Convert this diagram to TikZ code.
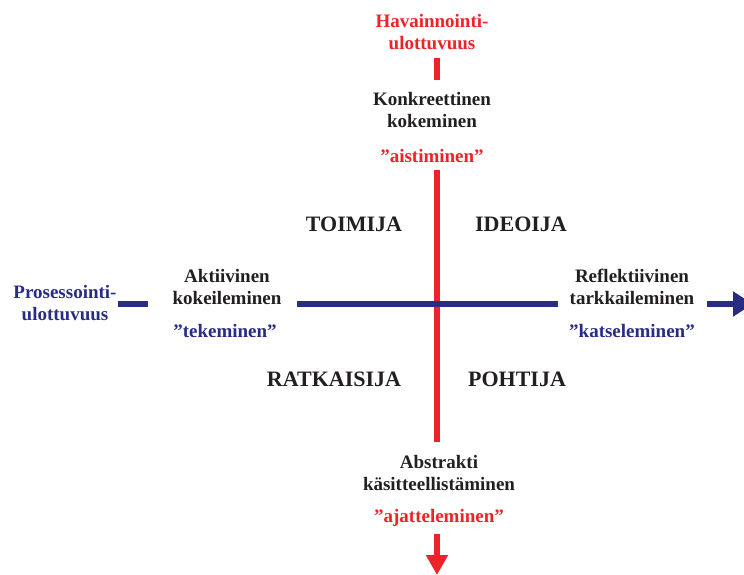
\documentclass[tikz,border=0pt]{standalone}
\usepackage{fontspec}
\setmainfont{Liberation Serif}
\usetikzlibrary{arrows.meta}
\definecolor{axisred}{RGB}{237,35,40}
\definecolor{axisblue}{RGB}{40,45,130}
\definecolor{ink}{RGB}{35,31,32}
\begin{document}
\begin{tikzpicture}[x=1pt,y=-1pt,
  lbl/.style={font=\fontsize{19}{22}\selectfont\bfseries, align=center, inner sep=0pt, text=ink},
  quad/.style={lbl, font=\fontsize{22}{24}\selectfont\bfseries},
  redlbl/.style={lbl, text=axisred},
  bluelbl/.style={lbl, text=axisblue},
  redaxis/.style={draw=axisred, line width=6.5pt},
  blueaxis/.style={draw=axisblue, line width=6.5pt},
  downtip/.style={-{Triangle[length=20pt,width=21pt]}},
  righttip/.style={-{Triangle[length=20pt,width=24pt]}}]
\useasboundingbox (0,0) rectangle (744,575);

% labels of the vertical (perception) axis
\node[redlbl] (hav)  at (432,32)  {Havainnointi-\\ulottuvuus};
\node[lbl]    (konk) at (432,110) {Konkreettinen\\kokeminen};
\node[redlbl] (aist) at (432,156) {”aistiminen”};
\node[lbl]    (abst) at (439,473) {Abstrakti\\käsitteellistäminen};
\node[redlbl] (ajat) at (439,518) {”ajatteleminen”};

% labels of the horizontal (processing) axis
\node[bluelbl] (pros) at (65,303)  {Prosessointi-\\ulottuvuus};
\node[lbl]     (akt)  at (227,287) {Aktiivinen\\kokeileminen};
\node[bluelbl] (tek)  at (225,331) {”tekeminen”};
\node[lbl]     (refl) at (632,287) {Reflektiivinen\\tarkkaileminen};
\node[bluelbl] (kats) at (632,331) {”katseleminen”};

% quadrant labels
\node[quad] (toim) at (354,224) {TOIMIJA};
\node[quad] (ideo) at (521,224) {IDEOIJA};
\node[quad] (ratk) at (334,379) {RATKAISIJA};
\node[quad] (poht) at (517,379) {POHTIJA};

% end points of the axis segments
\coordinate (r1a) at (437,58);  \coordinate (r1b) at (437,80);
\coordinate (r2a) at (437,170); \coordinate (r2b) at (437,442);
\coordinate (r3a) at (437,534); \coordinate (r3b) at (437,575);
\coordinate (b1a) at (118,304); \coordinate (b1b) at (148,304);
\coordinate (b2a) at (297,304); \coordinate (b2b) at (558,304);
\coordinate (b3a) at (707,304); \coordinate (b3b) at (753,304);

% vertical axis
\draw[redaxis] (r1a) -- (r1b);
\draw[redaxis] (r2a) -- (r2b);
\draw[redaxis, downtip] (r3a) -- (r3b);

% horizontal axis, drawn over the vertical one
\draw[blueaxis] (b1a) -- (b1b);
\draw[blueaxis] (b2a) -- (b2b);
\draw[blueaxis, righttip] (b3a) -- (b3b);
\end{tikzpicture}
\end{document}
